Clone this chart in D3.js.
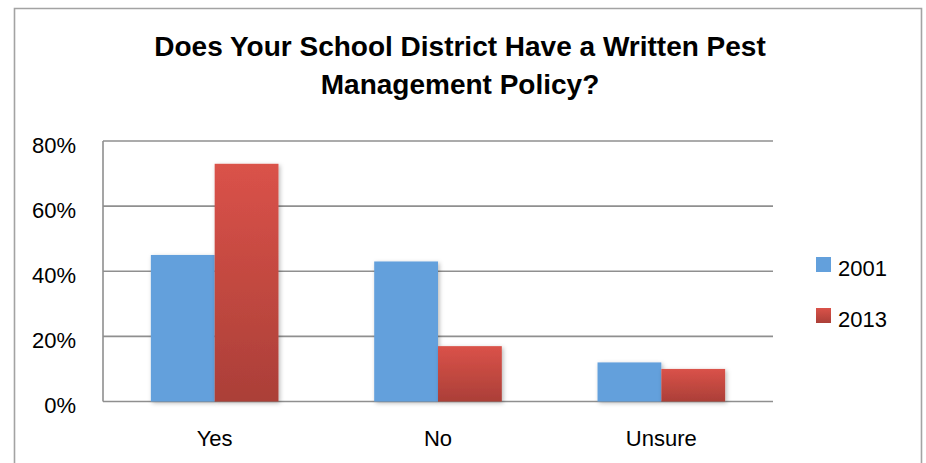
<!DOCTYPE html>
<html>
<head>
<meta charset="utf-8">
<script src="https://cdn.jsdelivr.net/npm/d3@7/dist/d3.min.js"></script>
<style>
  html, body { margin: 0; padding: 0; background: #fff; }
  svg { display: block; }
  text { font-family: "Liberation Sans", Arial, sans-serif; fill: #000; }
</style>
</head>
<body>
<script>
// Survey answers by year (share of districts)
const categories = ["Yes", "No", "Unsure"];
const years = ["2001", "2013"];
const values2001 = [0.45, 0.43, 0.12];
const values2013 = [0.73, 0.17, 0.10];
const yTicks = [0, 0.2, 0.4, 0.6, 0.8];
const titleLines = ["Does Your School District Have a Written Pest", "Management Policy?"];

const W = 926, H = 463;
const margin = { left: 103, right: 153, top: 141, bottom: 61.5 };

const svg = d3.select("body").append("svg").attr("width", W).attr("height", H);

const defs = svg.append("defs");
const grad = defs.append("linearGradient")
  .attr("id", "redFill").attr("x1", 0).attr("y1", 0).attr("x2", 0).attr("y2", 1);
grad.append("stop").attr("offset", "0%").attr("stop-color", "#da5249");
grad.append("stop").attr("offset", "100%").attr("stop-color", "#ab3f38");

const shadow = defs.append("filter").attr("id", "barShadow")
  .attr("x", "-20%").attr("y", "-10%").attr("width", "150%").attr("height", "130%");
shadow.append("feDropShadow")
  .attr("dx", 1.5).attr("dy", 1.5).attr("stdDeviation", 2)
  .attr("flood-color", "#000").attr("flood-opacity", 0.28);

// Outer chart frame
svg.append("path")
  .attr("d", `M14.5,${H + 2} V8.5 H921.5 V${H + 2}`)
  .attr("fill", "none").attr("stroke", "#a3a3a3").attr("stroke-width", 1.6);

// Title
svg.append("g").selectAll("text").data(titleLines).join("text")
  .attr("x", 460).attr("y", (d, i) => 56 + i * 38)
  .attr("text-anchor", "middle")
  .style("font-size", "28px").style("font-weight", "bold")
  .text(d => d);

const x0 = d3.scaleBand().domain(categories)
  .range([margin.left, W - margin.right]).paddingInner(0).paddingOuter(0);
const y = d3.scaleLinear().domain([0, 0.8]).range([H - margin.bottom, margin.top]);

const groupW = x0.bandwidth() * 0.5714;
const x1 = d3.scaleBand().domain(years).range([0, groupW]);

// Horizontal gridlines
svg.append("g").selectAll("line").data(yTicks).join("line")
  .attr("x1", margin.left).attr("x2", W - margin.right)
  .attr("y1", d => y(d)).attr("y2", d => y(d))
  .attr("stroke", "#8f8f8f").attr("stroke-width", 1.6);

// Value axis line
svg.append("line")
  .attr("x1", margin.left).attr("x2", margin.left)
  .attr("y1", y(0.8)).attr("y2", y(0))
  .attr("stroke", "#8f8f8f").attr("stroke-width", 1.6);

// Y tick labels
svg.append("g").selectAll("text").data(yTicks).join("text")
  .attr("x", 76).attr("y", d => y(d) + 11.5)
  .attr("text-anchor", "end")
  .style("font-size", "22px")
  .text(d => d3.format(".0%")(d));

// Bars
const rows = categories.map((c, i) => ({ cat: c, vals: [values2001[i], values2013[i]] }));
const colors = ["#63a0dc", "url(#redFill)"];

const groups = svg.append("g").selectAll("g").data(rows).join("g")
  .attr("transform", d => `translate(${x0(d.cat) + (x0.bandwidth() - groupW) / 2},0)`);

groups.selectAll("rect").data(d => d.vals.map((v, k) => ({ v, k })))
  .join("rect")
  .attr("x", d => x1(years[d.k]))
  .attr("width", x1.bandwidth())
  .attr("y", d => y(d.v))
  .attr("height", d => y(0) - y(d.v))
  .attr("fill", d => colors[d.k])
  .attr("filter", "url(#barShadow)");

// Category labels
svg.append("g").selectAll("text").data(categories).join("text")
  .attr("x", d => x0(d) + x0.bandwidth() / 2).attr("y", 446)
  .attr("text-anchor", "middle")
  .style("font-size", "22px")
  .text(d => d);

// Legend
const legend = svg.append("g").selectAll("g").data(years).join("g")
  .attr("transform", (d, i) => `translate(816,${257 + i * 51})`);
legend.append("rect")
  .attr("width", 15).attr("height", 15)
  .attr("fill", (d, i) => colors[i]);
legend.append("text")
  .attr("x", 22).attr("y", 19)
  .style("font-size", "22px")
  .text(d => d);
</script>
</body>
</html>
